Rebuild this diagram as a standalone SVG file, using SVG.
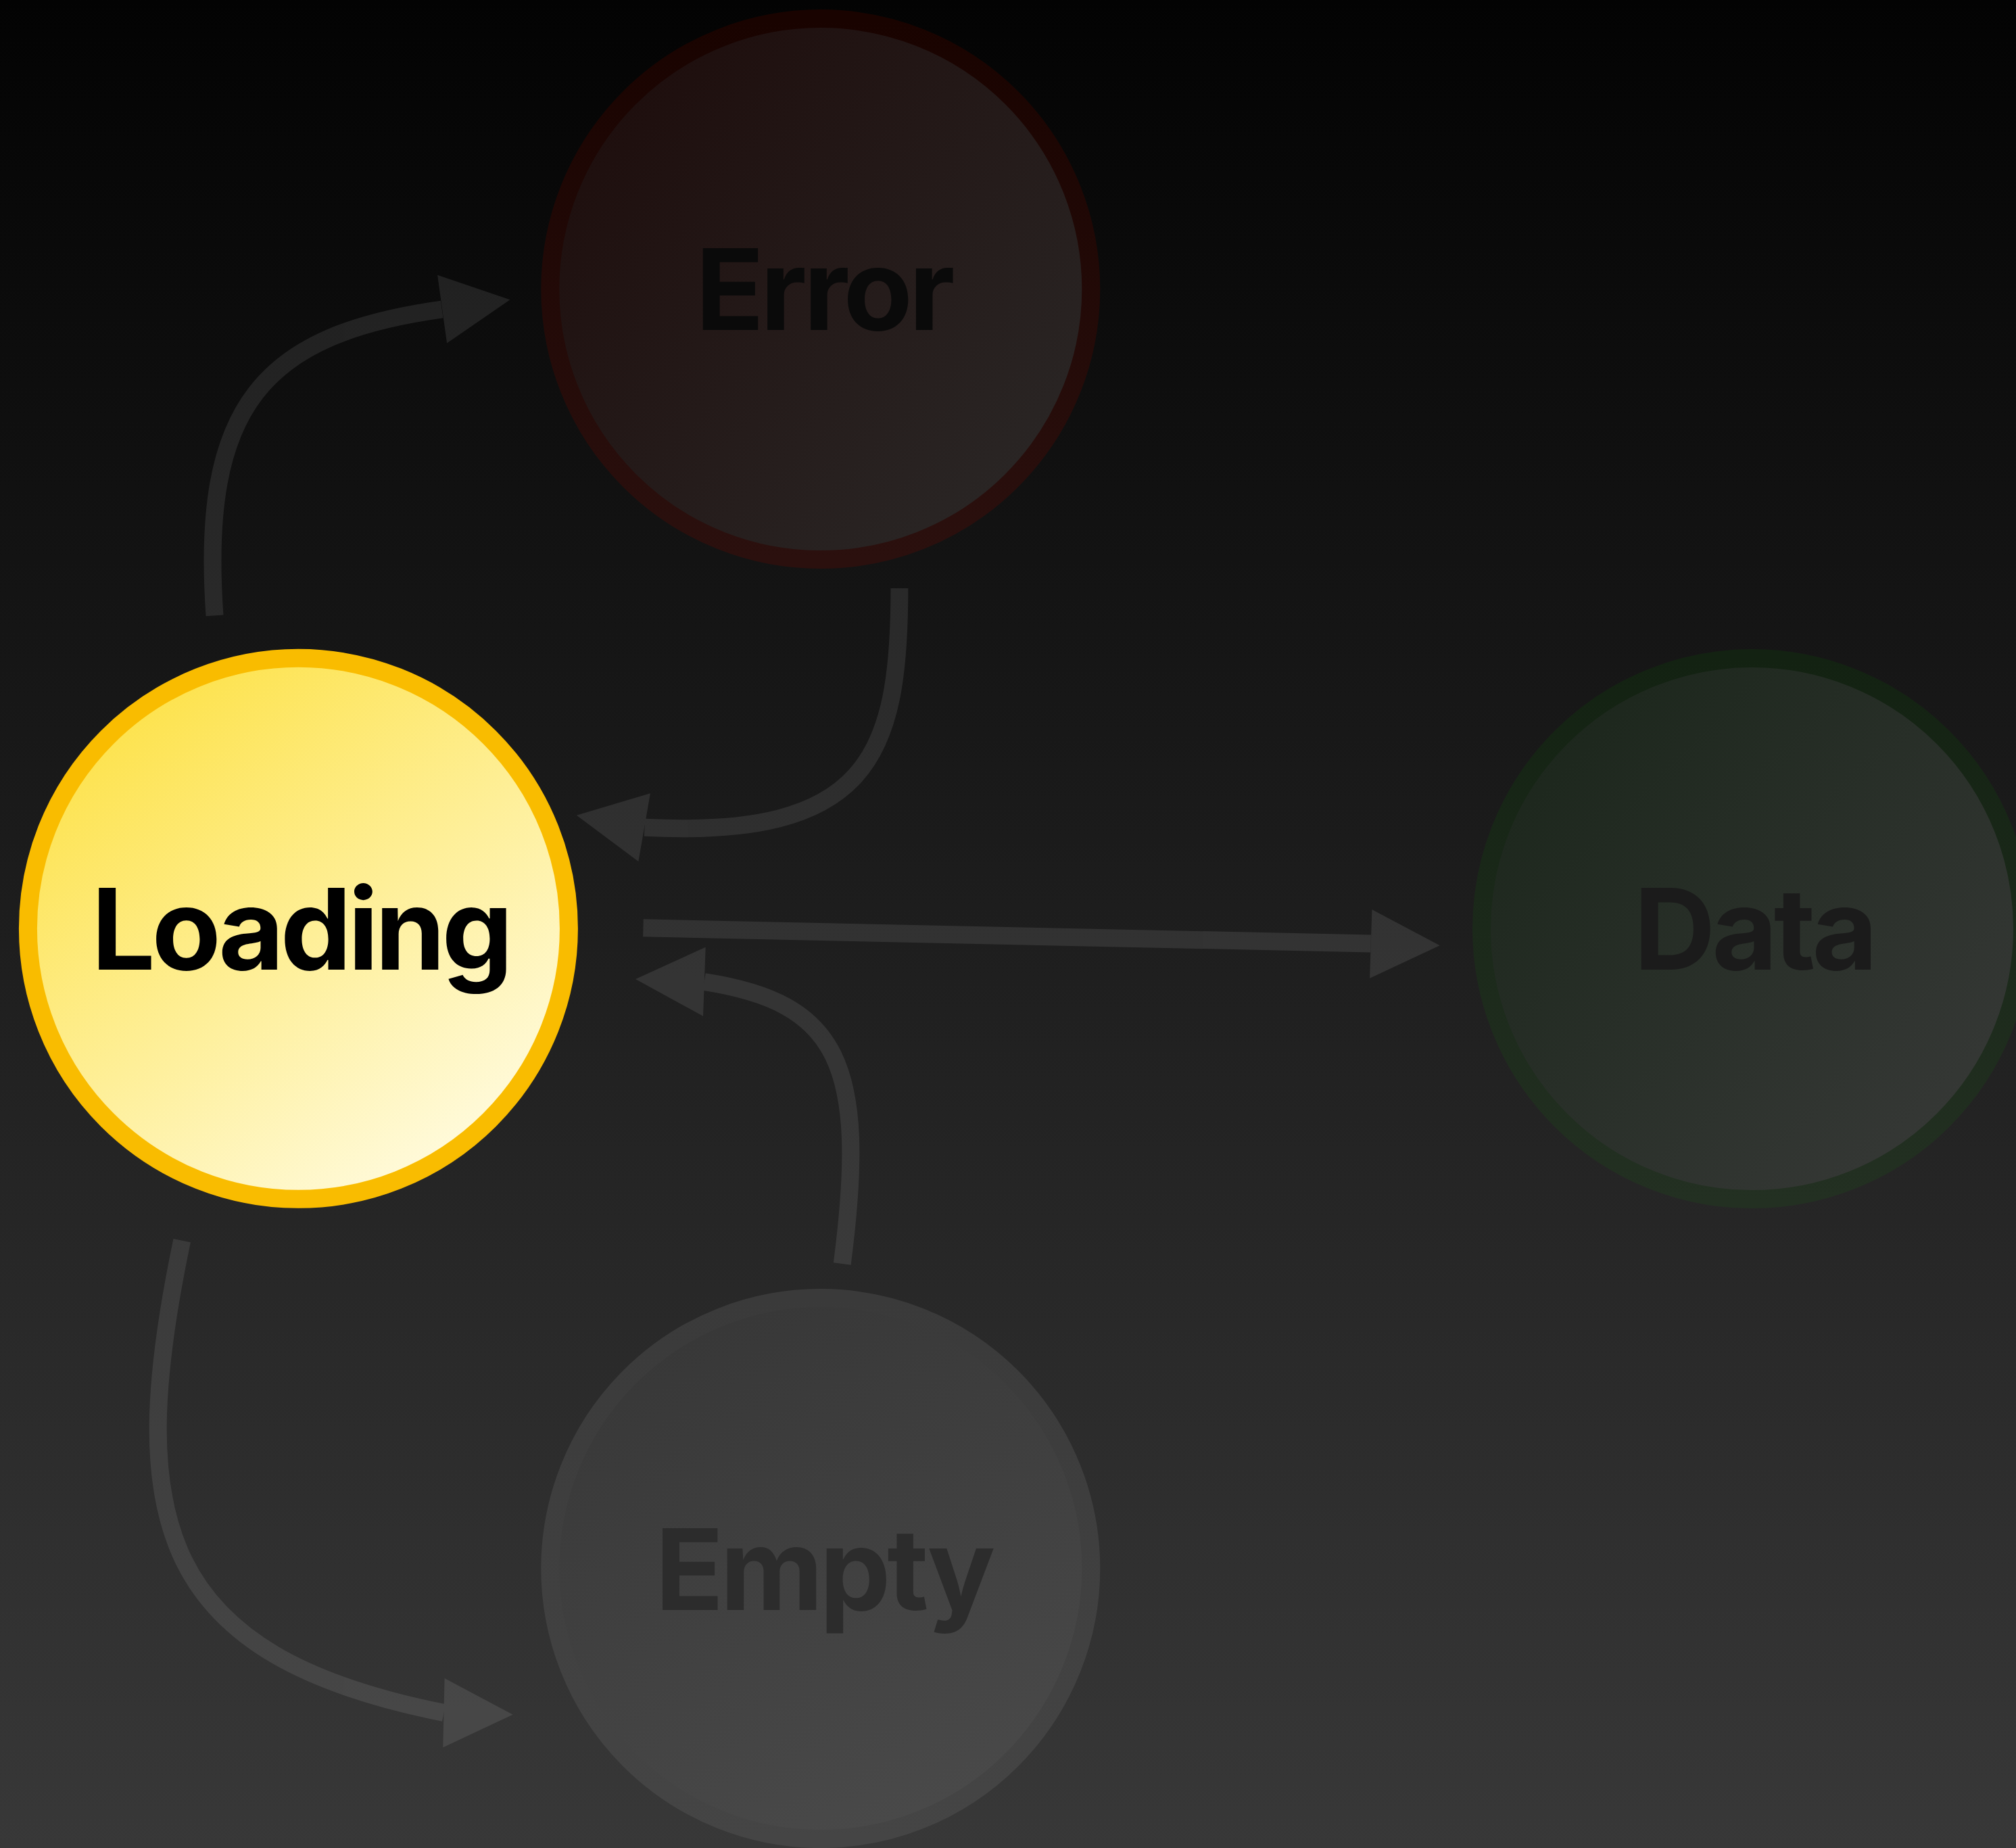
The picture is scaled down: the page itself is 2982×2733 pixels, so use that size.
<svg xmlns="http://www.w3.org/2000/svg" width="2982" height="2733" viewBox="0 0 2982 2733">
  <defs>
    <linearGradient id="bg" x1="0" y1="0" x2="0" y2="1">
      <stop offset="0" stop-color="#030303"/>
      <stop offset="1" stop-color="#383838"/>
    </linearGradient>
    <linearGradient id="fillLoading" x1="0.15" y1="0.1" x2="0.8" y2="1">
      <stop offset="0" stop-color="#fde24a"/>
      <stop offset="1" stop-color="#fffce6"/>
    </linearGradient>
    <linearGradient id="fillError" x1="0" y1="0" x2="1" y2="1">
      <stop offset="0" stop-color="#1c0a09"/>
      <stop offset="1" stop-color="#2c2a29"/>
    </linearGradient>
    <linearGradient id="strokeError" x1="0" y1="0" x2="0" y2="1">
      <stop offset="0" stop-color="#190300"/>
      <stop offset="1" stop-color="#2b100e"/>
    </linearGradient>
    <linearGradient id="fillData" x1="0" y1="0" x2="1" y2="1">
      <stop offset="0" stop-color="#182418"/>
      <stop offset="1" stop-color="#3a3b3a"/>
    </linearGradient>
    <linearGradient id="strokeData" x1="0" y1="0" x2="0" y2="1">
      <stop offset="0" stop-color="#132212"/>
      <stop offset="1" stop-color="#233022"/>
    </linearGradient>
    <linearGradient id="fillEmpty" x1="0.3" y1="0" x2="0.7" y2="1">
      <stop offset="0" stop-color="#373737"/>
      <stop offset="1" stop-color="#4a4a4a"/>
    </linearGradient>
    <linearGradient id="strokeEmpty" x1="0" y1="0" x2="0" y2="1">
      <stop offset="0" stop-color="#3a3a3a"/>
      <stop offset="1" stop-color="#454545"/>
    </linearGradient>
  </defs>
  <style>
    .node circle { stroke-width: 27; }
    .label { font-family: Inter, "Liberation Sans", sans-serif; font-weight: 700; font-size: 167px; letter-spacing: -5.3px; text-anchor: middle; }
    .edge { fill: none; stroke: #ffffff; stroke-width: 26; stroke-linecap: butt; }
    .head { fill: #ffffff; stroke: none; }
    .conn { opacity: 0.092; }
  </style>
  <rect x="0" y="0" width="2982" height="2733" fill="url(#bg)"/>

  <g id="connectors">
    <g id="edge-loading-error" class="conn">
      <path class="edge" d="M317.5,910.4 C295.8,600.4 388.4,494.6 653.7,457.5"/>
      <polygon class="head" points="647.1,406.8 754.4,443.2 661.1,507.5"/>
    </g>
    <g id="edge-error-loading" class="conn">
      <path class="edge" d="M1330.4,870 C1330.4,1120 1283.5,1240.2 953.5,1223.7"/>
      <polygon class="head" points="961.9,1173.3 852.8,1205.7 944.3,1274"/>
    </g>
    <g id="edge-loading-data" class="conn">
      <path class="edge" d="M951.4,1372.3 L2027.7,1395.5"/>
      <polygon class="head" points="2029.4,1345 2129.7,1398.3 2026.1,1446.7"/>
    </g>
    <g id="edge-empty-loading" class="conn">
      <path class="edge" d="M1245.7,1869 C1284.4,1572 1239.3,1482.6 1041.7,1452"/>
      <polygon class="head" points="1043.7,1400.7 940,1448 1040,1502.7"/>
    </g>
    <g id="edge-loading-empty" class="conn">
      <path class="edge" d="M269.2,1834.7 C182.1,2250.8 235.1,2448.7 656.5,2533"/>
      <polygon class="head" points="657.6,2482.1 758.6,2535.7 655.3,2584.2"/>
    </g>
  </g>

  <g id="node-error" class="node">
    <circle cx="1213.8" cy="427.6" r="400" fill="url(#fillError)" stroke="url(#strokeError)"/>
    <text class="label" x="1218" y="487.5" fill="#0a0a0a">Error</text>
  </g>
  <g id="node-loading" class="node">
    <circle cx="441.4" cy="1373.3" r="400" fill="url(#fillLoading)" stroke="#f9bc00"/>
    <text class="label" x="444.5" y="1434" fill="#000000">Loading</text>
  </g>
  <g id="node-data" class="node">
    <circle cx="2591.5" cy="1373.6" r="400" fill="url(#fillData)" stroke="url(#strokeData)"/>
    <text class="label" x="2594.5" y="1434" fill="#1b1b1b">Data</text>
  </g>
  <g id="node-empty" class="node">
    <circle cx="1213.8" cy="2319.6" r="400" fill="url(#fillEmpty)" stroke="url(#strokeEmpty)"/>
    <text class="label" x="1218" y="2380.5" fill="#2c2c2c">Empty</text>
  </g>
</svg>
